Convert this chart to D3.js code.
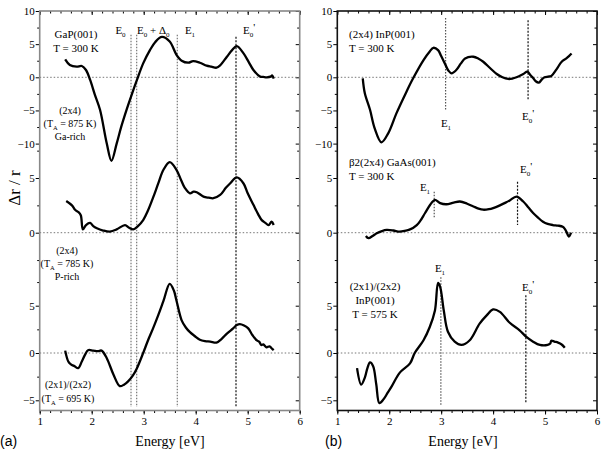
<!DOCTYPE html>
<meta charset="utf-8">
<script src="https://d3js.org/d3.v7.min.js"></script>
<style>
  body { margin: 0; background: #fff; }
  .zero { stroke: #777; stroke-width: 1; stroke-dasharray: 1.5,2; }
  .curve { fill: none; stroke: #000; stroke-width: 2.3; stroke-linejoin: round; }
</style>
<body>
<svg width="604" height="450"></svg>
<script>
// energy axis (eV)
var energyMajor = [1, 2, 3, 4, 5, 6];
var energyMinor = d3.range(1, 6.001, 0.2);

// the three stacked sub-ranges of dr/r (each has its own scale)
var topTicks = [-10, -7.5, -5, -2.5, 0, 2.5, 5, 7.5, 10];
var midTicks = [-2.5, 0, 2.5, 5, 7.5];
var botTicks = [-5, -2.5, 0, 2.5, 5, 7.5];

// (a) GaP(001) spectra  [energy, dr/r]
var gaRich = [[1.49,2.7],[1.58,1.85],[1.71,1.6],[1.81,1.7],[1.89,1.1],[1.97,-0.4],[2.06,-2.6],[2.16,-4.9],
  [2.29,-10],[2.38,-12.6],[2.48,-10],[2.57,-7.4],[2.67,-4.9],[2.77,-2.6],[2.87,-0.4],[2.99,2.1],[3.12,4.1],
  [3.22,5.3],[3.35,6.1],[3.5,5.4],[3.63,3.4],[3.73,2.5],[3.86,2.2],[3.95,2.45],[4.08,2.2],[4.21,1.75],
  [4.3,1.6],[4.4,1.45],[4.47,1.8],[4.6,3.1],[4.7,4.1],[4.79,4.7],[4.92,3.6],[5.02,2.3],[5.11,1.1],
  [5.24,0.1],[5.3,0.05],[5.37,0],[5.44,0.1],[5.47,0.3],[5.5,-0.2]];
var pRich = [[1.51,2.9],[1.62,2.5],[1.68,2.1],[1.74,1.9],[1.79,1.6],[1.83,0.3],[1.89,0.7],[1.97,0.9],
  [2.03,0.6],[2.1,0.4],[2.22,0.2],[2.35,0.1],[2.48,0.3],[2.64,0.7],[2.72,0.45],[2.8,0.3],[2.88,0.55],
  [2.99,1.15],[3.08,2.0],[3.18,3.2],[3.28,4.5],[3.38,5.75],[3.5,6.45],[3.63,5.75],[3.72,4.8],[3.79,4.1],
  [3.89,3.6],[3.96,3.75],[4.02,3.7],[4.15,3.3],[4.25,3.2],[4.34,3.15],[4.47,3.45],[4.58,4.1],[4.66,4.5],
  [4.79,5.05],[4.92,4.5],[5.0,3.6],[5.11,2.55],[5.2,1.7],[5.27,1.15],[5.34,0.9],[5.4,0.7],[5.46,1.0],[5.5,0.7]];
var gap2x1 = [[1.49,0.25],[1.55,-0.9],[1.6,-1.2],[1.67,-1.4],[1.74,-1.6],[1.81,-0.9],[1.87,-0.2],[1.93,0.3],
  [2.03,0.25],[2.12,0.2],[2.19,0.25],[2.29,-0.55],[2.42,-2.3],[2.54,-3.5],[2.62,-3.35],[2.7,-3.0],[2.79,-2.4],
  [2.87,-1.6],[2.99,0],[3.08,1.3],[3.18,2.6],[3.28,4.0],[3.38,5.5],[3.5,7.3],[3.58,6.6],[3.63,5.55],
  [3.73,3.45],[3.81,2.7],[3.89,2.2],[3.98,1.8],[4.08,1.4],[4.18,1.25],[4.28,1.2],[4.4,1.1],[4.5,1.5],
  [4.6,2.05],[4.72,2.6],[4.79,2.95],[4.85,3.05],[4.93,2.9],[5.01,2.6],[5.09,1.9],[5.17,1.35],[5.22,1.2],
  [5.26,0.85],[5.3,0.9],[5.36,0.6],[5.42,0.7],[5.46,0.5],[5.5,0.3]];

// (b) InP / GaAs spectra
var inp300 = [[1.49,-0.15],[1.53,-2.4],[1.63,-4.9],[1.72,-7.7],[1.85,-9.8],[1.98,-8.45],[2.14,-5.4],
  [2.33,-2.2],[2.46,-0.15],[2.66,2.6],[2.78,3.9],[2.85,4.45],[2.94,4.1],[3.0,3.2],[3.07,2.1],[3.14,1.0],
  [3.2,0.6],[3.29,1.1],[3.38,2.1],[3.46,2.85],[3.62,3.1],[3.72,2.8],[3.81,2.35],[3.94,1.4],[4.07,0.5],
  [4.18,0.0],[4.29,-0.25],[4.37,-0.2],[4.45,0],[4.58,0.5],[4.66,0.85],[4.72,0.3],[4.77,-0.1],[4.82,-0.6],
  [4.88,-0.8],[4.94,-0.3],[4.99,0],[5.06,0.1],[5.12,0.2],[5.22,1.2],[5.32,2.35],[5.41,2.85],[5.46,3.2],[5.51,3.6]];
var gaas300 = [[1.55,-0.3],[1.6,-0.5],[1.68,-0.3],[1.76,-0.05],[1.86,0.15],[1.95,0.25],[2.08,0.2],[2.2,0.1],
  [2.32,0.2],[2.4,0.3],[2.53,0.7],[2.6,1.1],[2.69,1.8],[2.82,2.75],[2.88,3.0],[2.98,2.7],[3.1,2.6],
  [3.24,2.75],[3.36,2.85],[3.5,2.65],[3.62,2.4],[3.72,2.2],[3.81,2.1],[3.92,2.15],[4.0,2.25],[4.13,2.5],
  [4.24,2.75],[4.32,2.95],[4.45,3.3],[4.58,2.85],[4.68,2.3],[4.77,1.8],[4.86,1.4],[4.96,1.0],[5.05,0.8],
  [5.15,0.7],[5.25,0.65],[5.34,0.55],[5.38,0.35],[5.41,0.1],[5.46,-0.35],[5.5,0]];
var inp575 = [[1.38,-1.6],[1.46,-3.35],[1.53,-2.6],[1.58,-1.6],[1.63,-1.0],[1.69,-1.4],[1.75,-3.3],[1.81,-5.3],
  [1.89,-4.9],[1.97,-4.2],[2.05,-3.5],[2.2,-2.1],[2.4,-1.1],[2.49,0],[2.66,1.35],[2.78,2.75],[2.88,4.5],
  [2.94,7.4],[2.98,7.0],[3.05,4.5],[3.13,2.25],[3.26,1.2],[3.39,0.85],[3.55,1.35],[3.74,3.1],[3.88,4.0],
  [4.0,4.6],[4.13,4.35],[4.32,3.2],[4.51,2.4],[4.64,1.7],[4.77,1.2],[4.9,0.85],[5.05,0.85],[5.1,1.0],
  [5.12,1.3],[5.18,1.2],[5.25,1.1],[5.32,0.9],[5.38,0.55]];

// transition markers: energy, sub-range + value where the line starts and ends
var leftMarkE   = [2.756, 2.865, 3.646, 4.775];
var leftMarkTop = [6.4, 6.4, 6.4, 6.1];     // in top range
var leftMarkBot = [-5.7, -5.7, -5.7, -5.7]; // in bottom range
var rightMarks = [
  {e: 3.085, seg: "top", v0: 8.95, v1: -4.9, name: "E1"},
  {e: 4.673, seg: "top", v0: 8.6,  v1: -3.4, name: "E0'"},
  {e: 2.866, seg: "mid", v0: 3.75, v1: 1.3,  name: "E1"},
  {e: 4.47,  seg: "mid", v0: 4.65, v1: 0.7,  name: "E0'"},
  {e: 2.994, seg: "bot", v0: 8.0,  v1: -5.5, name: "E1"},
  {e: 4.63,  seg: "bot", v0: 6.1,  v1: -5.2, name: "E0'"}
];

var SERIF = "Liberation Serif, Times New Roman, serif";
var svg = d3.select("svg");
var top_ = 11, bottom = 410.5;

var yS = {
  top: d3.scaleLinear().domain([0, 10]).range([77.3, 11]),
  mid: d3.scaleLinear().domain([0, 5]).range([232.7, 178]),
  bot: d3.scaleLinear().domain([0, 5]).range([353, 305.7])
};
var segTicks = {top: topTicks, mid: midTicks, bot: botTicks};

function noDomain(a) { a.select(".domain").remove(); a.attr("font-family", SERIF).attr("font-size", 11); }

function panel(x0, x1, frameColor) {
  var x = d3.scaleLinear().domain([1, 6]).range([x0, x1]);
  var g = svg.append("g");

  // x axes (bottom outward, top inward)
  [bottom, top_].forEach(function(yy, k) {
    var maj = d3.axisBottom(x).tickValues(energyMajor).tickSize(4).tickPadding(3)
      .tickFormat(k === 0 ? d3.format("d") : "");
    var mn = d3.axisBottom(x).tickValues(energyMinor).tickSize(2.5).tickFormat("");
    g.append("g").attr("transform", "translate(0," + yy + ")").call(mn).call(noDomain);
    g.append("g").attr("transform", "translate(0," + yy + ")").call(maj).call(noDomain);
  });

  // y axes per sub-range (left outward, right inward)
  ["top", "mid", "bot"].forEach(function(s) {
    var major = segTicks[s].filter(function(d){ return d % 5 === 0; });
    var minor = segTicks[s].filter(function(d){ return d % 5 !== 0; });
    [x0, x1].forEach(function(xx, k) {
      var maj = d3.axisLeft(yS[s]).tickValues(major).tickSize(4).tickPadding(1)
        .tickFormat(k === 0 ? d3.format("d") : "");
      var mn = d3.axisLeft(yS[s]).tickValues(minor).tickSize(2.5).tickFormat("");
      g.append("g").attr("transform", "translate(" + xx + ",0)").call(maj).call(noDomain);
      g.append("g").attr("transform", "translate(" + xx + ",0)").call(mn).call(noDomain);
    });
    g.append("line").attr("class", "zero")
      .attr("x1", x0).attr("x2", x1).attr("y1", yS[s](0)).attr("y2", yS[s](0));
  });

  g.append("rect").attr("x", x0).attr("y", top_).attr("width", x1 - x0).attr("height", bottom - top_)
    .attr("fill", "none").attr("stroke", frameColor).attr("stroke-width", 1.6);
  return {g: g, x: x};
}

function curve(p, data, seg) {
  var line = d3.line().curve(d3.curveCatmullRom.alpha(0.5))
    .x(function(d){ return p.x(d[0]); }).y(function(d){ return yS[seg](d[1]); });
  p.g.append("path").datum(data).attr("class", "curve").attr("d", line);
}

function txt(g, x, y, size) {
  return g.append("text").attr("x", x).attr("y", y).attr("font-family", SERIF).attr("font-size", size);
}

// E with subscript and optional prime
function eLabel(g, x, y, sub, prime) {
  var t = txt(g, x, y, 11).attr("text-anchor", "middle");
  t.append("tspan").text("E");
  t.append("tspan").attr("font-size", "7px").attr("dy", 2.5).text(sub);
  if (prime) t.append("tspan").attr("dy", -6).text("'");
  return t;
}

function textLines(g, x, y, lines, size, dy) {
  lines.forEach(function(l, i) {
    var t = txt(g, x, y + i * dy, size).attr("text-anchor", "middle");
    if (typeof l === "string") { t.text(l); return; }
    t.append("tspan").text(l[0]);
    t.append("tspan").attr("font-size", "6.5px").attr("dy", 2.5).text(l[1]);
    t.append("tspan").attr("dy", -2.5).text(l[2]);
  });
}

// ---------- panel (a)
var pa = panel(39.7, 299.7, "#888");
leftMarkE.forEach(function(e, i) {
  pa.g.append("line")
    .attr("x1", pa.x(e)).attr("x2", pa.x(e))
    .attr("y1", yS.top(leftMarkTop[i])).attr("y2", yS.bot(leftMarkBot[i]))
    .attr("stroke", i === 3 ? "#111" : "#777").attr("stroke-width", 1.2)
    .attr("stroke-dasharray", i === 3 ? "2,1.5" : "1.5,1.5");
});
eLabel(pa.g, 120.5, 34, "0", false);
var tt = txt(pa.g, 137, 34, 11);
tt.append("tspan").text("E");
tt.append("tspan").attr("font-size", "7px").attr("dy", 2.5).text("0");
tt.append("tspan").attr("dy", -2.5).text(" + Δ");
tt.append("tspan").attr("font-size", "7px").attr("dy", 2.5).text("0");
eLabel(pa.g, 190, 34, "1", false);
eLabel(pa.g, 249, 34, "0", true);

curve(pa, gaRich, "top");
curve(pa, pRich, "mid");
curve(pa, gap2x1, "bot");

textLines(pa.g, 76, 38, ["GaP(001)", "T = 300 K"], 11, 13.5);
textLines(pa.g, 70, 114, ["(2x4)", ["(T", "A", " = 875 K)"], "Ga-rich"], 10, 13);
textLines(pa.g, 67, 254, ["(2x4)", ["(T", "A", " = 785 K)"], "P-rich"], 10, 13);
textLines(pa.g, 68, 388, ["(2x1)/(2x2)", ["(T", "A", " = 695 K)"]], 10, 14);

// ---------- panel (b)
var pb = panel(337.3, 597, "#111");
rightMarks.forEach(function(m) {
  var prime = m.name === "E0'";
  pb.g.append("line")
    .attr("x1", pb.x(m.e)).attr("x2", pb.x(m.e))
    .attr("y1", yS[m.seg](m.v0)).attr("y2", yS[m.seg](m.v1))
    .attr("stroke", prime ? "#111" : "#555").attr("stroke-width", 1.2)
    .attr("stroke-dasharray", prime ? "2,1.5" : "1.5,1.5");
});
eLabel(pb.g, 446, 127, "1", false);
eLabel(pb.g, 528, 120, "0", true);
eLabel(pb.g, 425, 191, "1", false);
eLabel(pb.g, 526, 173, "0", true);
eLabel(pb.g, 440, 272, "1", false);
eLabel(pb.g, 528, 291, "0", true);

curve(pb, inp300, "top");
curve(pb, gaas300, "mid");
curve(pb, inp575, "bot");

[["(2x4) InP(001)", 38], ["T = 300 K", 51.5], ["β2(2x4) GaAs(001)", 166], ["T = 300 K", 180]].forEach(function(l) {
  txt(pb.g, 349, l[1], 11).text(l[0]);
});
textLines(pb.g, 375, 290, ["(2x1)/(2x2)", "InP(001)", "T = 575 K"], 11, 14);

// ---------- axis titles
txt(svg, 0, 0, 17).attr("transform", "translate(20,188) rotate(-90)").attr("text-anchor", "middle").text("Δr / r");
[[170, "(a)", 0], [463, "(b)", 325]].forEach(function(d) {
  txt(svg, d[0], 446, 14).attr("text-anchor", "middle").text("Energy [eV]");
  svg.append("text").attr("x", d[2]).attr("y", 446).attr("font-size", 14)
    .attr("font-family", "Liberation Sans, Arial, sans-serif").text(d[1]);
});
</script>
</body>
